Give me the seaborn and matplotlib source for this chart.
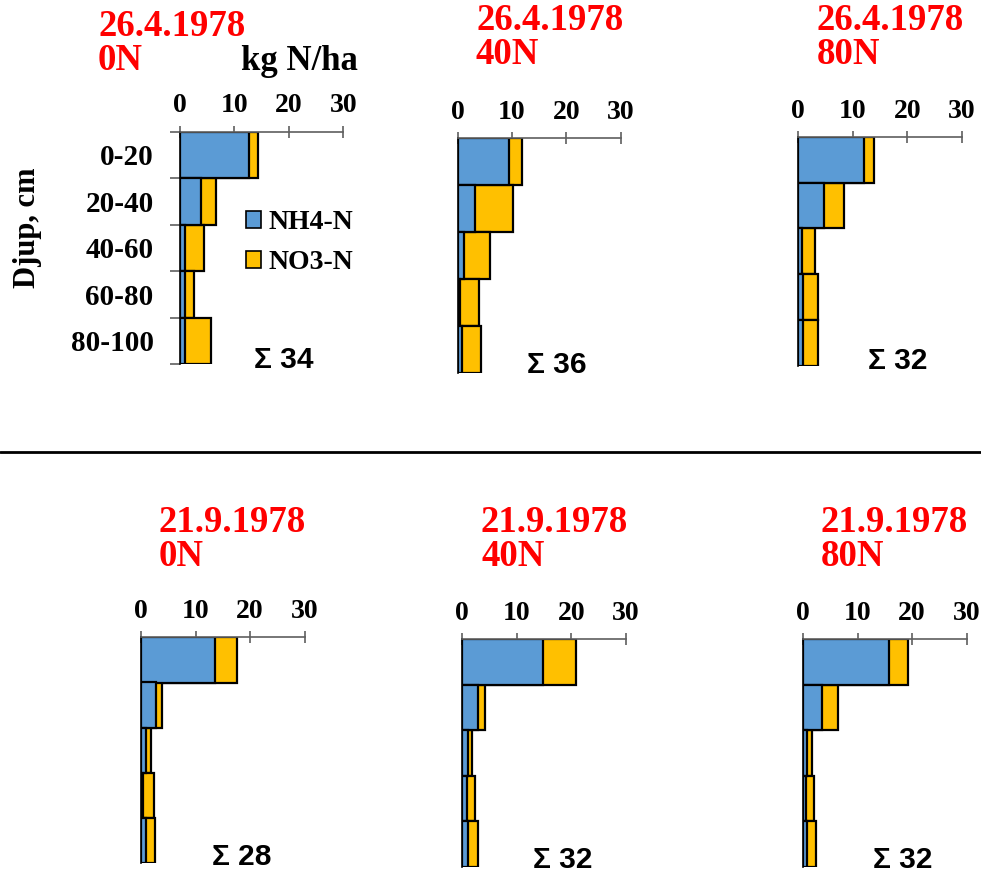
import numpy as np
import pandas as pd
import seaborn as sns
import matplotlib
matplotlib.use("Agg")
import matplotlib.pyplot as plt
from matplotlib.patches import Patch
from matplotlib.lines import Line2D

# ---------------- data ----------------
depths = ["0-20", "20-40", "40-60", "60-80", "80-100"]
dates = ["26.4.1978", "26.4.1978", "26.4.1978", "21.9.1978", "21.9.1978", "21.9.1978"]
doses = ["0N", "40N", "80N", "0N", "40N", "80N"]
sum_labels = ["Σ 34", "Σ 36", "Σ 32", "Σ 28", "Σ 32", "Σ 32"]
x_ticks = [0, 10, 20, 30]

nh4_apr_0N = [12.7, 3.9, 0.9, 0.9, 0.9]
no3_apr_0N = [1.6, 2.7, 3.5, 1.6, 4.8]
nh4_apr_40N = [9.5, 3.2, 1.1, 0.5, 0.8]
no3_apr_40N = [2.4, 7.0, 4.9, 3.4, 3.4]
nh4_apr_80N = [12.0, 4.8, 0.6, 0.9, 0.9]
no3_apr_80N = [1.8, 3.6, 2.4, 2.7, 2.7]
nh4_sep_0N = [13.5, 2.7, 0.9, 0.4, 0.9]
no3_sep_0N = [4.1, 1.1, 0.9, 1.9, 1.7]
nh4_sep_40N = [14.9, 2.8, 1.0, 0.8, 1.0]
no3_sep_40N = [5.9, 1.4, 0.8, 1.6, 1.9]
nh4_sep_80N = [15.8, 3.5, 0.8, 0.5, 0.7]
no3_sep_80N = [3.5, 2.9, 0.9, 1.6, 1.7]

nh4_all = [nh4_apr_0N, nh4_apr_40N, nh4_apr_80N, nh4_sep_0N, nh4_sep_40N, nh4_sep_80N]
no3_all = [no3_apr_0N, no3_apr_40N, no3_apr_80N, no3_sep_0N, no3_sep_40N, no3_sep_80N]

# ---------------- style ----------------
sns.set_theme(style="white")
plt.rcParams["font.family"] = ["Liberation Serif", "DejaVu Serif"]
plt.rcParams["font.weight"] = "bold"
plt.rcParams["text.color"] = "black"
plt.rcParams["xtick.color"] = "black"
plt.rcParams["ytick.color"] = "black"

W, H = 981, 873
fig = plt.figure(figsize=(W / 100, H / 100), dpi=100)

BLUE = "#5B9BD5"
ORANGE = "#FFC000"
AXCOL = "#5f5f5f"
RED = "#FF0000"

# panel geometry in pixels: x at 0, x at 30, y top, y bottom
geom = [
    (180.0, 343.3, 131.5, 364.0),
    (457.7, 620.7, 137.7, 373.3),
    (798.3, 962.0, 136.7, 365.7),
    (141.0, 304.7, 637.3, 863.3),
    (462.3, 625.7, 639.3, 866.7),
    (803.0, 966.7, 639.3, 866.7),
]
title_pos = [(98, 26, 61), (476, 20, 54), (817, 20, 54),
             (159, 523, 557), (481, 523, 557), (821, 523, 557)]
sum_pos = [(254, 360), (527, 365), (868, 361), (212, 857), (533, 860), (873, 860)]


def fx(x):
    return x / W


def fy(y):
    return 1 - y / H


for i in range(6):
    x0, x30, yt, yb = geom[i]
    ax = fig.add_axes([fx(x0), fy(yb), (x30 - x0) / W, (yb - yt) / H])
    df = pd.DataFrame({
        "depth": depths,
        "NH4-N": nh4_all[i],
        "NO3-N": no3_all[i],
    })
    df["total"] = df["NH4-N"] + df["NO3-N"]
    sns.barplot(data=df, x="total", y="depth", orient="h", color=ORANGE,
                saturation=1, width=1, edgecolor="black", linewidth=1.6, ax=ax)
    sns.barplot(data=df, x="NH4-N", y="depth", orient="h", color=BLUE,
                saturation=1, width=1, edgecolor="black", linewidth=1.6, ax=ax)
    ax.set_xlim(0, 30)
    ax.set_ylim(4.5, -0.5)
    ax.set_xlabel("")
    ax.set_ylabel("")
    ax.xaxis.tick_top()
    ax.set_xticks(x_ticks)
    ax.set_xticklabels([str(t) for t in x_ticks], fontsize=20,
                       fontweight="bold", color="black")
    ax.tick_params(axis="x", direction="inout", length=9, width=1.2,
                   color=AXCOL, pad=5, top=True, bottom=False)
    for s in ["bottom", "right"]:
        ax.spines[s].set_visible(False)
    ax.spines["top"].set_color(AXCOL)
    ax.spines["top"].set_linewidth(1.2)
    ax.spines["left"].set_color("black")
    ax.spines["left"].set_linewidth(1.2)
    ax.set_facecolor("none")
    if i == 0:
        ax.set_yticks(range(5))
        ax.set_yticklabels(depths, fontsize=21, fontweight="bold", color="black")
        ax.tick_params(axis="y", which="major", length=0, pad=19)
        ax.set_yticks(np.arange(-0.5, 5, 1), minor=True)
        ax.tick_params(axis="y", which="minor", length=7.5, width=1.2,
                       color=AXCOL, direction="out", left=True)
    else:
        ax.set_yticks([])

    tx, ty1, ty2 = title_pos[i]
    fig.text(fx(tx), fy(ty1), dates[i], color=RED, fontsize=26.5,
             fontweight="bold", ha="left", va="center")
    fig.text(fx(tx), fy(ty2), doses[i], color=RED, fontsize=26.5,
             fontweight="bold", ha="left", va="center")
    sx, sy = sum_pos[i]
    fig.text(fx(sx), fy(sy), sum_labels[i], fontsize=21.5, fontweight="bold",
             family=["Liberation Sans", "DejaVu Sans"], ha="left", va="center",
             color="black")

# unit label
fig.text(fx(241), fy(61), "kg N/ha", fontsize=25, fontweight="bold",
         ha="left", va="center", color="black")
# y label
fig.text(fx(28), fy(228), "Djup, cm", fontsize=22, fontweight="bold",
         rotation=90, ha="center", va="center", color="black")

# legend
handles = [Patch(facecolor=BLUE, edgecolor="black", linewidth=1.2, label="NH4-N"),
           Patch(facecolor=ORANGE, edgecolor="black", linewidth=1.2, label="NO3-N")]
fig.legend(handles=handles, loc="upper left",
           bbox_to_anchor=(fx(246), fy(210)), bbox_transform=fig.transFigure,
           frameon=False, prop={"weight": "bold", "size": 20,
                                "family": ["Liberation Serif", "DejaVu Serif"]},
           labelcolor="black",
           handlelength=0.55, handleheight=0.55, handletextpad=0.25,
           labelspacing=0.55, borderpad=0, borderaxespad=0)

# divider line
fig.add_artist(Line2D([0, 1], [fy(451.7), fy(451.7)], color="black",
                      linewidth=2.0, transform=fig.transFigure))

fig.savefig("out.png", dpi=100)
